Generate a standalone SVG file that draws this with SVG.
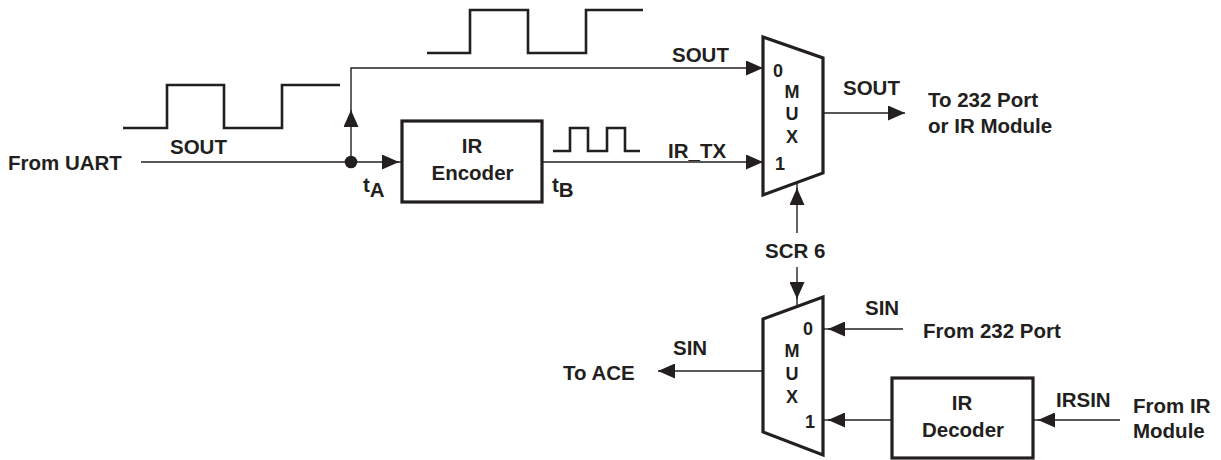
<svg xmlns="http://www.w3.org/2000/svg" width="1221" height="460" viewBox="0 0 1221 460">
  <style>
    .t { font-family: "Liberation Sans", Arial, sans-serif; font-weight: bold; font-size: 20.5px; fill: #231f20; }
    .m { font-family: "Liberation Sans", Arial, sans-serif; font-weight: bold; font-size: 18px; fill: #231f20; }
    .c { text-anchor: middle; }
    .w { fill: none; stroke: #231f20; stroke-width: 1.4; }
    .wave { fill: none; stroke: #231f20; stroke-width: 2.6; }
    .blk { fill: #fff; stroke: #231f20; stroke-width: 3.2; stroke-linejoin: miter; }
  </style>
  <defs>
    <marker id="arr" markerUnits="userSpaceOnUse" markerWidth="17" markerHeight="15" refX="17" refY="7.5" orient="auto">
      <path d="M0,0 L17,7.5 L0,15 Z" fill="#231f20"/>
    </marker>
  </defs>

  <!-- waveforms -->
  <g id="waveforms">
    <path class="wave" d="M123,128 H167 V85 H224 V128 H282 V85 H340"/>
    <path class="wave" d="M427,53 H470 V10 H528 V53 H586 V10 H643"/>
    <path class="wave" d="M553,151 H570 V128 H588 V151 H607 V128 H625 V151 H640"/>
  </g>

  <!-- connectors -->
  <g id="connectors">
    <path class="w" d="M141,162 H399" marker-end="url(#arr)"/>
    <path class="w" d="M398,162 H402"/>
    <circle cx="351" cy="162" r="6.3" fill="#231f20"/>
    <path class="w" d="M351,162 V110" marker-end="url(#arr)"/>
    <path class="w" d="M351,111 V68 H763" marker-end="url(#arr)"/>
    <path class="w" d="M543,162 H763" marker-end="url(#arr)"/>
    <path class="w" d="M823,113 H905" marker-end="url(#arr)"/>
    <path class="w" d="M797,233 V188" marker-end="url(#arr)"/>
    <path class="w" d="M797,189 V182"/>
    <path class="w" d="M797,267 V299" marker-end="url(#arr)"/>
    <path class="w" d="M797,298 V306"/>
    <path class="w" d="M903,329 H828" marker-end="url(#arr)"/>
    <path class="w" d="M829,329 H823"/>
    <path class="w" d="M892,420 H828" marker-end="url(#arr)"/>
    <path class="w" d="M829,420 H823"/>
    <path class="w" d="M1120,420 H1038" marker-end="url(#arr)"/>
    <path class="w" d="M1039,420 H1033"/>
    <path class="w" d="M763,371 H658" marker-end="url(#arr)"/>
  </g>

  <!-- nodes -->
  <g id="ir-encoder">
    <rect class="blk" x="402" y="121" width="140" height="81"/>
    <text class="t c" x="472" y="153">IR</text>
    <text class="t c" x="472.5" y="180">Encoder</text>
  </g>

  <g id="mux-out">
    <polygon class="blk" points="763,37 823,58 823,173 763,195"/>
    <text class="m" x="773" y="77">0</text>
    <text class="m c" x="792" y="98">M</text>
    <text class="m c" x="792" y="120">U</text>
    <text class="m c" x="792" y="143">X</text>
    <text class="m" x="775" y="170">1</text>
  </g>

  <g id="mux-in">
    <polygon class="blk" points="763,319 823,297 823,455 763,432"/>
    <text class="m" x="803" y="335">0</text>
    <text class="m c" x="792" y="357">M</text>
    <text class="m c" x="792" y="380">U</text>
    <text class="m c" x="792" y="403">X</text>
    <text class="m" x="805" y="428">1</text>
  </g>

  <g id="ir-decoder">
    <rect class="blk" x="892" y="378" width="141" height="80"/>
    <text class="t c" x="962" y="410">IR</text>
    <text class="t c" x="963" y="437">Decoder</text>
  </g>

  <!-- labels -->
  <g id="labels">
    <text class="t" x="8" y="170">From UART</text>
    <text class="t" x="170" y="154">SOUT</text>
    <text class="t" x="363" y="192">t<tspan dy="5">A</tspan></text>
    <text class="t" x="552" y="192">t<tspan dy="5">B</tspan></text>
    <text class="t" x="672" y="62">SOUT</text>
    <text class="t" x="668" y="158">IR_TX</text>
    <text class="t" x="843" y="95">SOUT</text>
    <text class="t" x="928" y="107">To 232 Port</text>
    <text class="t" x="928" y="133">or IR Module</text>
    <text class="t" x="765" y="258">SCR 6</text>
    <text class="t" x="865" y="315">SIN</text>
    <text class="t" x="923" y="338">From 232 Port</text>
    <text class="t" x="673" y="355">SIN</text>
    <text class="t" x="563" y="380">To ACE</text>
    <text class="t" x="1056" y="407">IRSIN</text>
    <text class="t" x="1133" y="413">From IR</text>
    <text class="t" x="1133" y="438">Module</text>
  </g>
</svg>
